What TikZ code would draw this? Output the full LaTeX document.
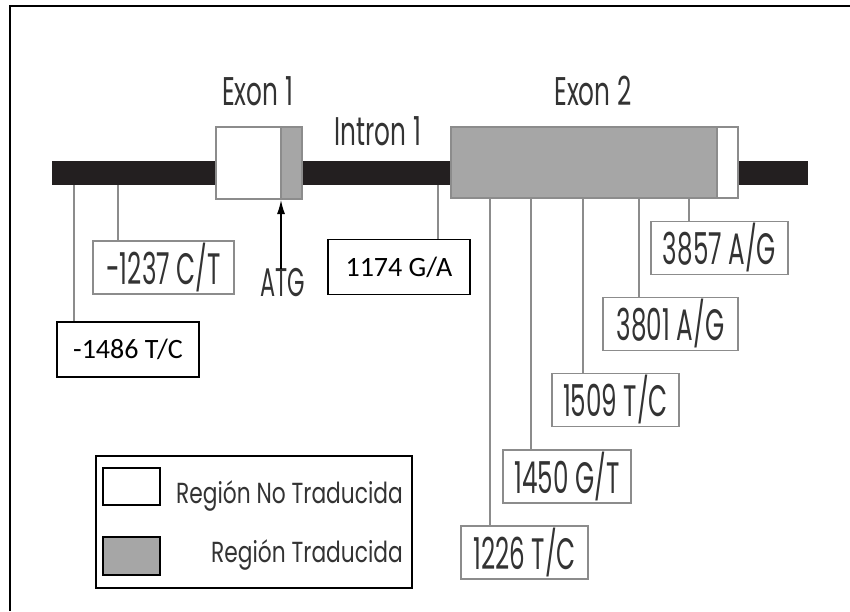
\documentclass[tikz,border=0pt]{standalone}
\usepackage{fontspec}
\usetikzlibrary{arrows.meta}
\newfontfamily\gothic[FakeStretch=0.62]{Poppins}
\newfontfamily\gothicnum[FakeStretch=0.56]{Poppins}
\newfontfamily\gothicleg[FakeStretch=0.75]{Poppins}
\newfontfamily\calib{Carlito}
\definecolor{barblack}{HTML}{231F20}
\definecolor{cdsgray}{HTML}{A6A6A6}
\definecolor{edgegray}{HTML}{8C8C8C}
\definecolor{textgray}{HTML}{333333}

\begin{document}
\begin{tikzpicture}[x=1pt,y=-1pt,
    snp/.style={draw=edgegray,line width=1.3pt,inner sep=0pt,minimum height=53pt,
      text=textgray,font=\gothicnum\fontsize{44}{48}\selectfont},
    snpcal/.style={draw=black,line width=1.3pt,inner sep=0pt,minimum height=55pt,
      font=\calib\fontsize{28}{32}\selectfont},
    genelabel/.style={text=textgray,anchor=base,inner sep=0pt,
      font=\gothic\fontsize{40}{44}\selectfont},
    legtext/.style={text=textgray,anchor=base east,inner sep=0pt,
      font=\gothicleg\fontsize{29}{32}\selectfont},
    utr/.style={draw=edgegray,fill=white,line width=1.2pt},
    cds/.style={draw=edgegray,fill=cdsgray,line width=1.2pt},
    stem/.style={draw=edgegray,line width=1.1pt}]
\useasboundingbox (0,0) rectangle (850,611);
\draw[line width=2pt] (10,611) -- (10,6) -- (850,6);

% gene
\fill[barblack] (52,161) rectangle (216,185);
\fill[barblack] (302,161) rectangle (451,185);
\fill[barblack] (738,161) rectangle (808,185);
\draw[utr] (216,127) rectangle (281,199);
\draw[cds] (281,127) rectangle (302,199);
\draw[cds] (451,127) rectangle (717,198);
\draw[utr] (717,127) rectangle (738,198);

\node[genelabel] (exon1) at (257.5,105) {Exon 1};
\node[genelabel] (intron1) at (378,145) {Intron 1};
\node[genelabel] (exon2) at (593,105) {Exon 2};

% ATG
\coordinate (start) at (281,200);
\node[genelabel,anchor=center,font=\gothicnum\fontsize{40}{44}\selectfont] (atg) at (283,283) {ATG};
\draw[line width=1.3pt,-{Latex[length=14pt,width=8pt]}] (atg.north) ++(-2,0) -- (start);

% polymorphisms
\node[snpcal,minimum width=142pt] (p1486) at (128,349.5) {-1486 T/C};
\node[snp,minimum width=141pt] (p1237) at (163.5,267.5) {-1237 C/T};
\node[snpcal,minimum width=142pt] (p1174) at (399,267) {1174 G/A};
\node[snp,minimum width=127pt] (p1226) at (524.5,552.5) {1226 T/C};
\node[snp,minimum width=128pt] (p1450) at (567,476.5) {1450 G/T};
\node[snp,minimum width=127pt] (p1509) at (615.5,400) {1509 T/C};
\node[snp,minimum width=135pt] (p3801) at (670.5,324) {3801 A/G};
\node[snp,minimum width=137pt] (p3857) at (719.5,248) {3857 A/G};

\coordinate (s1486) at (74,185);
\coordinate (s1237) at (118,185);
\coordinate (s1174) at (438,185);
\coordinate (s1226) at (490,198);
\coordinate (s1450) at (531,198);
\coordinate (s1509) at (583,198);
\coordinate (s3801) at (639,198);
\coordinate (s3857) at (689,198);
\foreach \p in {1486,1237,1174,1226,1450,1509,3801,3857}
  \draw[stem] (s\p) -- (s\p |- p\p.north);

% legend
\draw[line width=2pt] (96,456) rectangle (412,588);
\draw[line width=2pt,fill=white] (103,468) rectangle (160,505);
\draw[line width=2pt,fill=cdsgray] (103,537) rectangle (160,575);
\node[legtext] (utrtext) at (403,503) {Región No Traducida};
\node[legtext] (cdstext) at (403,562) {Región Traducida};
\end{tikzpicture}
\end{document}
